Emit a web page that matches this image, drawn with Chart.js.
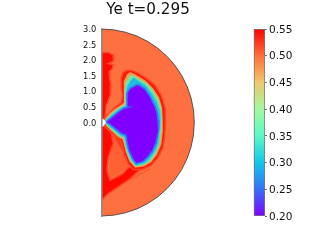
<!DOCTYPE html>
<html>
<head>
<meta charset="utf-8">
<title>Ye t=0.295</title>
<script src="https://cdn.jsdelivr.net/npm/chart.js@4/dist/chart.umd.js"></script>
<style>
  html, body { margin: 0; padding: 0; background: #fff; }
  canvas { display: block; filter: blur(0.35px); }
</style>
</head>
<body>
<canvas id="yeChart" width="296" height="243"></canvas>
<script>
  const chartTitle = 'Ye t=0.295';

  // tick labels
  const radiusTicks = [0, 0.5, 1, 1.5, 2, 2.5, 3];
  const cbarTicks = [0.20, 0.25, 0.30, 0.35, 0.40, 0.45, 0.50, 0.55];

  // colour scale, one colour per colorbar tick
  const cbarColors = ['#8000ff', '#376ff9', '#12c7e6', '#5bf9c7', '#a4f99f', '#edc76f', '#ff6e39', '#ff0000'];

  // domain edge, r = 3
  const discX = [0, 0.392, 0.776, 1.148, 1.5, 1.826, 2.121, 2.38, 2.598, 2.772, 2.898, 2.974, 3,
    2.974, 2.898, 2.772, 2.598, 2.38, 2.121, 1.826, 1.5, 1.148, 0.776, 0.392, 0];
  const discY = [3, 2.974, 2.898, 2.772, 2.598, 2.38, 2.121, 1.826, 1.5, 1.148, 0.776, 0.392, 0,
    -0.392, -0.776, -1.148, -1.5, -1.826, -2.121, -2.38, -2.598, -2.772, -2.898, -2.974, -3];

  // high Ye along the axis, above and below the equator
  const upperJetX = [0, 0.22, 0.38, 0.39, 0.22, 0.38, 0.35, 0.25, 0.27, 0.31, 0.29, 0.16, 0.12, 0];
  const upperJetY = [2.25, 2.25, 2.17, 1.97, 1.89, 1.85, 1.72, 1.62, 1.40, 1.20, 0.88, 0.55, 0.14, 0.10];
  const lowerJetX = [0, 0.09, 0.31, 0.38, 0.22, 0.18, 0.28, 0.70, 0.86, 1.05, 1.31, 1.18, 0.93, 0.51, 0.22, 0];
  const lowerJetY = [-0.12, -0.12, -0.28, -0.67, -1.12, -1.54, -1.86, -1.64, -1.45, -1.41, -1.45, -1.57, -1.80, -2.09, -2.28, -2.51];

  // slightly higher Ye between the lower jet and the shock
  const lowerMidX = [0.22, 0.60, 0.76, 0.93, 0.60, 0.28, 0.28];
  const lowerMidY = [-0.28, -0.48, -0.90, -1.38, -1.61, -1.80, -0.90];

  // contours around the low Ye core, outermost first (Ye about 0.54, 0.46, 0.38, 0.30, 0.20)
  const redX = [0.05, 0.18, 0.44, 0.65, 0.68, 0.64, 0.64, 0.70, 0.80, 0.96, 1.18, 1.47, 1.73, 1.93, 2.06, 2.07, 2.05, 1.99, 1.83, 1.60, 1.31, 1.02, 0.86, 0.73, 0.67, 0.60, 0.35, 0.12];
  const redY = [0.07, 0.23, 0.49, 0.65, 0.88, 1.14, 1.43, 1.59, 1.67, 1.68, 1.59, 1.41, 1.20, 0.88, 0.46, 0.01, -0.41, -0.80, -1.12, -1.38, -1.51, -1.51, -1.32, -1.00, -0.70, -0.51, -0.35, -0.12];
  const yellowX = [0.09, 0.25, 0.44, 0.64, 0.73, 0.73, 0.72, 0.73, 0.83, 0.93, 1.09, 1.44, 1.67, 1.86, 1.96, 1.99, 1.99, 1.94, 1.80, 1.60, 1.38, 1.09, 0.91, 0.80, 0.73, 0.68, 0.54, 0.35, 0.15];
  const yellowY = [0.07, 0.28, 0.44, 0.57, 0.64, 0.81, 1.04, 1.33, 1.55, 1.62, 1.55, 1.33, 1.10, 0.81, 0.49, 0.14, -0.25, -0.70, -1.03, -1.28, -1.41, -1.45, -1.25, -0.96, -0.70, -0.54, -0.46, -0.30, -0.09];
  const greenX = [0.10, 0.28, 0.47, 0.67, 0.76, 0.75, 0.75, 0.78, 0.88, 0.96, 1.12, 1.47, 1.67, 1.85, 1.93, 1.96, 1.94, 1.89, 1.76, 1.59, 1.38, 1.10, 0.93, 0.81, 0.75, 0.72, 0.57, 0.38, 0.18];
  const greenY = [0.05, 0.25, 0.41, 0.54, 0.59, 0.78, 1.01, 1.26, 1.46, 1.54, 1.46, 1.26, 1.04, 0.73, 0.46, 0.14, -0.25, -0.69, -1.00, -1.24, -1.36, -1.41, -1.22, -0.95, -0.69, -0.51, -0.45, -0.28, -0.11];
  const cyanX = [0.12, 0.31, 0.51, 0.70, 0.81, 0.80, 0.80, 0.83, 0.93, 1.04, 1.17, 1.44, 1.63, 1.80, 1.88, 1.92, 1.89, 1.85, 1.72, 1.55, 1.38, 1.12, 0.96, 0.85, 0.78, 0.75, 0.60, 0.41, 0.22];
  const cyanY = [0.04, 0.22, 0.38, 0.51, 0.54, 0.75, 0.97, 1.17, 1.33, 1.44, 1.36, 1.18, 0.94, 0.65, 0.39, 0.14, -0.25, -0.67, -0.96, -1.19, -1.32, -1.38, -1.19, -0.93, -0.67, -0.48, -0.41, -0.25, -0.09];
  const coreX = [0.15, 0.35, 0.54, 0.73, 0.86, 0.83, 0.83, 0.93, 1.15, 1.22, 1.41, 1.57, 1.73, 1.80, 1.83, 1.85, 1.76, 1.64, 1.48, 1.35, 1.12, 0.99, 0.89, 0.83, 0.80, 0.64, 0.44, 0.28];
  const coreY = [0.01, 0.17, 0.33, 0.46, 0.49, 0.72, 0.94, 1.10, 1.21, 1.20, 1.07, 0.84, 0.52, 0.30, 0.07, -0.25, -0.67, -0.93, -1.12, -1.25, -1.32, -1.12, -0.90, -0.64, -0.41, -0.35, -0.19, -0.06];

  // dark streak behind the shock, faint one further out, hole at the centre
  const streakX = [0.35, 0.60, 0.70, 0.80, 0.67, 0.51];
  const streakY = [-0.35, -0.51, -0.84, -1.16, -0.90, -0.61];
  const faintX = [0.60, 1.12, 1.57];
  const faintY = [-1.96, -1.74, -1.48];
  const holeX = [0, 0.09, 0.15, 0.09, 0];
  const holeY = [0.14, 0.09, 0.01, -0.09, -0.15];

  function toPoints(xs, ys) {
    return xs.map((x, i) => ({ x: x, y: ys[i] }));
  }

  function region(xs, ys, fill, edge, edgeWidth) {
    const pts = toPoints(xs, ys);
    pts.push(pts[0]); // close the outline
    return {
      type: 'line',
      data: pts,
      fill: 'shape',
      backgroundColor: fill,
      borderColor: edge || fill,
      borderWidth: edgeWidth || 0,
      pointRadius: 0,
      tension: 0
    };
  }

  function cbarGradient(context) {
    const chart = context.chart;
    if (!chart.chartArea) return cbarColors[0];
    const scale = chart.scales.yBar;
    const first = cbarTicks[0];
    const last = cbarTicks[cbarTicks.length - 1];
    const grad = chart.ctx.createLinearGradient(0, scale.getPixelForValue(first), 0, scale.getPixelForValue(last));
    cbarTicks.forEach((v, i) => grad.addColorStop((v - first) / (last - first), cbarColors[i]));
    return grad;
  }

  const disc = {
    type: 'line',
    data: toPoints(discX, discY),
    fill: 'shape',
    backgroundColor: '#ff7040',
    borderColor: '#333',
    borderWidth: 0.8,
    pointRadius: 0,
    tension: 0,
    clip: false
  };

  const faint = {
    type: 'line',
    data: toPoints(faintX, faintY),
    borderColor: '#ff5c30',
    borderWidth: 1.5,
    pointRadius: 0,
    fill: false
  };

  const colorbar = {
    type: 'bar',
    yAxisID: 'yBar',
    data: [{ x: 5.1, y: [cbarTicks[0], cbarTicks[cbarTicks.length - 1]] }],
    barThickness: 11,
    backgroundColor: cbarGradient,
    borderColor: '#777',
    borderWidth: 1,
    borderSkipped: false
  };

  // painted bottom first
  const layers = [
    disc,
    faint,
    region(lowerMidX, lowerMidY, '#ff6034'),
    region(upperJetX, upperJetY, '#ff0a00', '#ff4526', 1.5),
    region(lowerJetX, lowerJetY, '#ff0a00', '#ff4526', 1.5),
    region(streakX, streakY, '#ff3a20'),
    region(redX, redY, '#ff1a08', '#ff4526', 1.5),
    region(yellowX, yellowY, '#f09a50'),
    region(greenX, greenY, '#70e8a0', '#d0b868', 0.8),
    region(cyanX, cyanY, '#20bce4', '#40dcc8', 1),
    region(coreX, coreY, '#8000ff', '#3a6cf5', 1.5),
    region(holeX, holeY, '#ffffff'),
    colorbar
  ];
  layers.forEach((d, i) => { d.order = layers.length - i; });

  Chart.defaults.font.family = '"DejaVu Sans"';
  Chart.defaults.color = '#111';

  new Chart(document.getElementById('yeChart'), {
    type: 'scatter',
    data: { datasets: layers },
    options: {
      responsive: false,
      animation: false,
      layout: { padding: { left: 0, right: 0, top: 0, bottom: 27 } },
      plugins: {
        legend: { display: false },
        tooltip: { enabled: false },
        title: {
          display: true,
          text: chartTitle,
          color: '#111',
          font: { size: 15.2, weight: 'normal' },
          padding: { top: 1, bottom: 9.76 }
        }
      },
      scales: {
        x: { type: 'linear', display: false, offset: false, min: 0, max: 5.28 },
        y: {
          type: 'linear',
          position: 'left',
          min: -3,
          max: 3,
          afterFit: s => { s.width = 101.3; },
          afterBuildTicks: s => { s.ticks = radiusTicks.map(v => ({ value: v })); },
          grid: { display: false, drawTicks: false },
          border: { display: true, color: '#8c8c8c', width: 1.6, z: 1 },
          ticks: {
            padding: 5,
            labelOffset: 1,
            autoSkip: false,
            font: { size: 8.3 },
            color: '#111',
            callback: v => v.toFixed(1)
          }
        },
        yBar: {
          type: 'linear',
          position: 'right',
          min: cbarTicks[0],
          max: cbarTicks[cbarTicks.length - 1],
          afterFit: s => { s.width = 31; },
          afterBuildTicks: s => { s.ticks = cbarTicks.map(v => ({ value: v })); },
          grid: { display: true, drawOnChartArea: false, drawTicks: true, tickLength: 2, color: '#777' },
          border: { display: false },
          ticks: {
            padding: 2,
            labelOffset: 1,
            autoSkip: false,
            font: { size: 10.5 },
            color: '#111',
            callback: v => v.toFixed(2)
          }
        }
      }
    }
  });
</script>
</body>
</html>
